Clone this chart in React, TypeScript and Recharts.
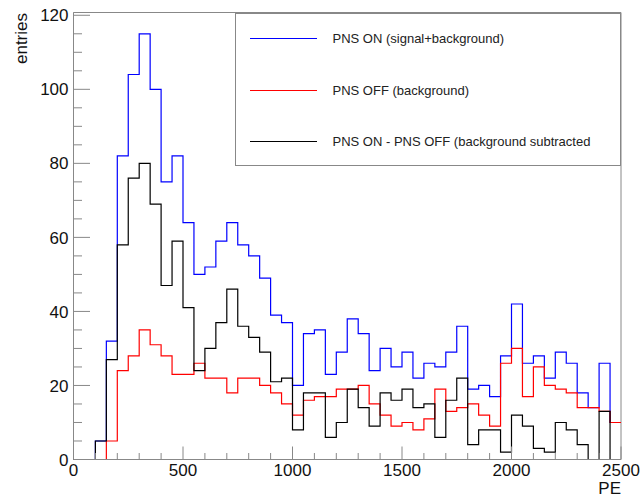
import React from "react"
import { LineChart, Line, XAxis, YAxis, Legend, ReferenceArea } from "recharts"

// lower bin edges in PE (50 PE bins), last entry closes the final bin
const binEdges = [
  0, 50, 100, 150, 200, 250, 300, 350, 400, 450,
  500, 550, 600, 650, 700, 750, 800, 850, 900, 950,
  1000, 1050, 1100, 1150, 1200, 1250, 1300, 1350, 1400, 1450,
  1500, 1550, 1600, 1650, 1700, 1750, 1800, 1850, 1900, 1950,
  2000, 2050, 2100, 2150, 2200, 2250, 2300, 2350, 2400, 2450,
  2500,
]

// entries per bin
const pnsOn = [
  0, 0, 5, 32, 82, 104, 115, 100, 75, 82,
  64, 50, 52, 59, 64, 58, 55, 49, 39, 37,
  20, 34, 35, 23, 29, 38, 34, 24, 30, 25,
  29, 22, 26, 25, 29, 36, 19, 20, 17, 28,
  42, 26, 28, 22, 29, 26, 18, 14, 26, 10,
]
const pnsOff = [
  0, 0, 0, 5, 24, 28, 35, 31, 28, 23,
  23, 26, 22, 22, 18, 22, 22, 20, 18, 15,
  12, 16, 17, 17, 19, 19, 20, 15, 12, 9,
  10, 8, 11, 19, 13, 14, 15, 12, 9, 26,
  30, 17, 25, 20, 19, 18, 14, 14, 13, 10,
]
const pnsDiff = [
  0, 0, 5, 27, 58, 76, 80, 69, 47, 59,
  41, 24, 30, 37, 46, 36, 33, 29, 21, 22,
  8, 18, 18, 6, 10, 19, 14, 9, 18, 16,
  19, 14, 15, 6, 16, 22, 4, 8, 8, 2,
  12, 9, 3, 2, 10, 8, 4, 0, 13, 0,
]

const seriesNames = [
  "PNS ON (signal+background)",
  "PNS OFF (background)",
  "PNS ON - PNS OFF (background subtracted",
]

const xTicks = [
  0, 100, 200, 300, 400, 500, 600, 700, 800, 900, 1000, 1100, 1200,
  1300, 1400, 1500, 1600, 1700, 1800, 1900, 2000, 2100, 2200, 2300, 2400, 2500,
]
const xLabels = [0, 500, 1000, 1500, 2000, 2500]
const yTicks = [
  0, 5, 10, 15, 20, 25, 30, 35, 40, 45, 50, 55, 60,
  65, 70, 75, 80, 85, 90, 95, 100, 105, 110, 115, 120,
]
const yLabels = [0, 20, 40, 60, 80, 100, 120]

const last = pnsOn.length - 1
const data = binEdges.map((pe, i) => ({
  pe,
  on: pnsOn[Math.min(i, last)],
  off: pnsOff[Math.min(i, last)],
  diff: pnsDiff[Math.min(i, last)],
}))

const FONT = "'Liberation Sans', Arial, Helvetica, sans-serif"
const AXIS = "#888"

function XTick({ x, y, payload }: any) {
  const major = xLabels.includes(payload.value)
  return (
    <g>
      <line x1={x} x2={x} y1={y} y2={y - (major ? 13 : 6.5)} stroke={AXIS} />
      {major && (
        <text x={x} y={y + 16} textAnchor="middle" fontSize={17} fontFamily={FONT} fill="#111">
          {payload.value}
        </text>
      )}
    </g>
  )
}

function YTick({ x, y, payload }: any) {
  const major = yLabels.includes(payload.value)
  return (
    <g>
      <line x1={x} x2={x + (major ? 16.5 : 8.5)} y1={y} y2={y} stroke={AXIS} />
      {major && (
        <text x={x - 5} y={y} dy="0.36em" textAnchor="end" fontSize={17} fontFamily={FONT} fill="#111">
          {payload.value}
        </text>
      )}
    </g>
  )
}

function LegendBox({ payload }: any) {
  // keep the entries in drawing order (blue, red, black)
  const items = [...(payload || [])].sort(
    (a: any, b: any) => seriesNames.indexOf(a.value) - seriesNames.indexOf(b.value)
  )
  return (
    <div
      style={{
        width: "100%",
        height: "100%",
        boxSizing: "border-box",
        border: `1px solid ${AXIS}`,
        background: "#fff",
        position: "relative",
        fontFamily: FONT,
        fontSize: 13,
        color: "#222",
      }}
    >
      {items.map((p: any, i: number) => (
        <div
          key={p.value}
          style={{
            position: "absolute",
            left: 14,
            top: 25 + i * 51.5 - 8,
            height: 16,
            display: "flex",
            alignItems: "center",
            whiteSpace: "nowrap",
          }}
        >
          <span style={{ display: "inline-block", width: 67, height: 0, borderTop: `1.5px solid ${p.color}` }} />
          <span style={{ marginLeft: 16 }}>{p.value}</span>
        </div>
      ))}
    </div>
  )
}

export default function App() {
  return (
    <div style={{ position: "fixed", left: 0, top: 0, width: 641, height: 497, background: "#fff" }}>
      <LineChart
        width={641}
        height={497}
        data={data}
        margin={{ top: 12.5, right: 20, bottom: 0, left: 0 }}
      >
        <ReferenceArea x1={0} x2={2500} y1={0} y2={120.75} fill="none" stroke={AXIS} ifOverflow="visible" />
        <XAxis
          dataKey="pe"
          type="number"
          domain={[0, 2500]}
          ticks={xTicks}
          interval={0}
          height={37.5}
          tickSize={0}
          tickMargin={0}
          tickLine={false}
          axisLine={{ stroke: AXIS }}
          tick={<XTick />}
        />
        <YAxis
          type="number"
          domain={[0, 120.75]}
          ticks={yTicks}
          interval={0}
          width={73.5}
          tickSize={0}
          tickMargin={0}
          tickLine={false}
          axisLine={{ stroke: AXIS }}
          tick={<YTick />}
        />
        <Legend
          layout="vertical"
          align="center"
          verticalAlign="middle"
          wrapperStyle={{ left: 234.5, top: 12.5, width: 386.5, height: 153 }}
          content={<LegendBox />}
        />
        <Line
          name={seriesNames[0]}
          dataKey="on"
          type="stepAfter"
          stroke="#0000ff"
          strokeWidth={1.2}
          dot={false}
          isAnimationActive={false}
        />
        <Line
          name={seriesNames[1]}
          dataKey="off"
          type="stepAfter"
          stroke="#ff0000"
          strokeWidth={1.2}
          dot={false}
          isAnimationActive={false}
        />
        <Line
          name={seriesNames[2]}
          dataKey="diff"
          type="stepAfter"
          stroke="#000000"
          strokeWidth={1.2}
          dot={false}
          isAnimationActive={false}
        />
      </LineChart>
      <svg
        width={641}
        height={497}
        style={{ position: "absolute", left: 0, top: 0, pointerEvents: "none" }}
      >
        <text
          x={27}
          y={13}
          transform="rotate(-90, 27, 13)"
          textAnchor="end"
          fontSize={17}
          fontFamily={FONT}
          fill="#111"
        >
          entries
        </text>
        <text x={621} y={494} textAnchor="end" fontSize={17} fontFamily={FONT} fill="#111">
          PE
        </text>
      </svg>
    </div>
  )
}
